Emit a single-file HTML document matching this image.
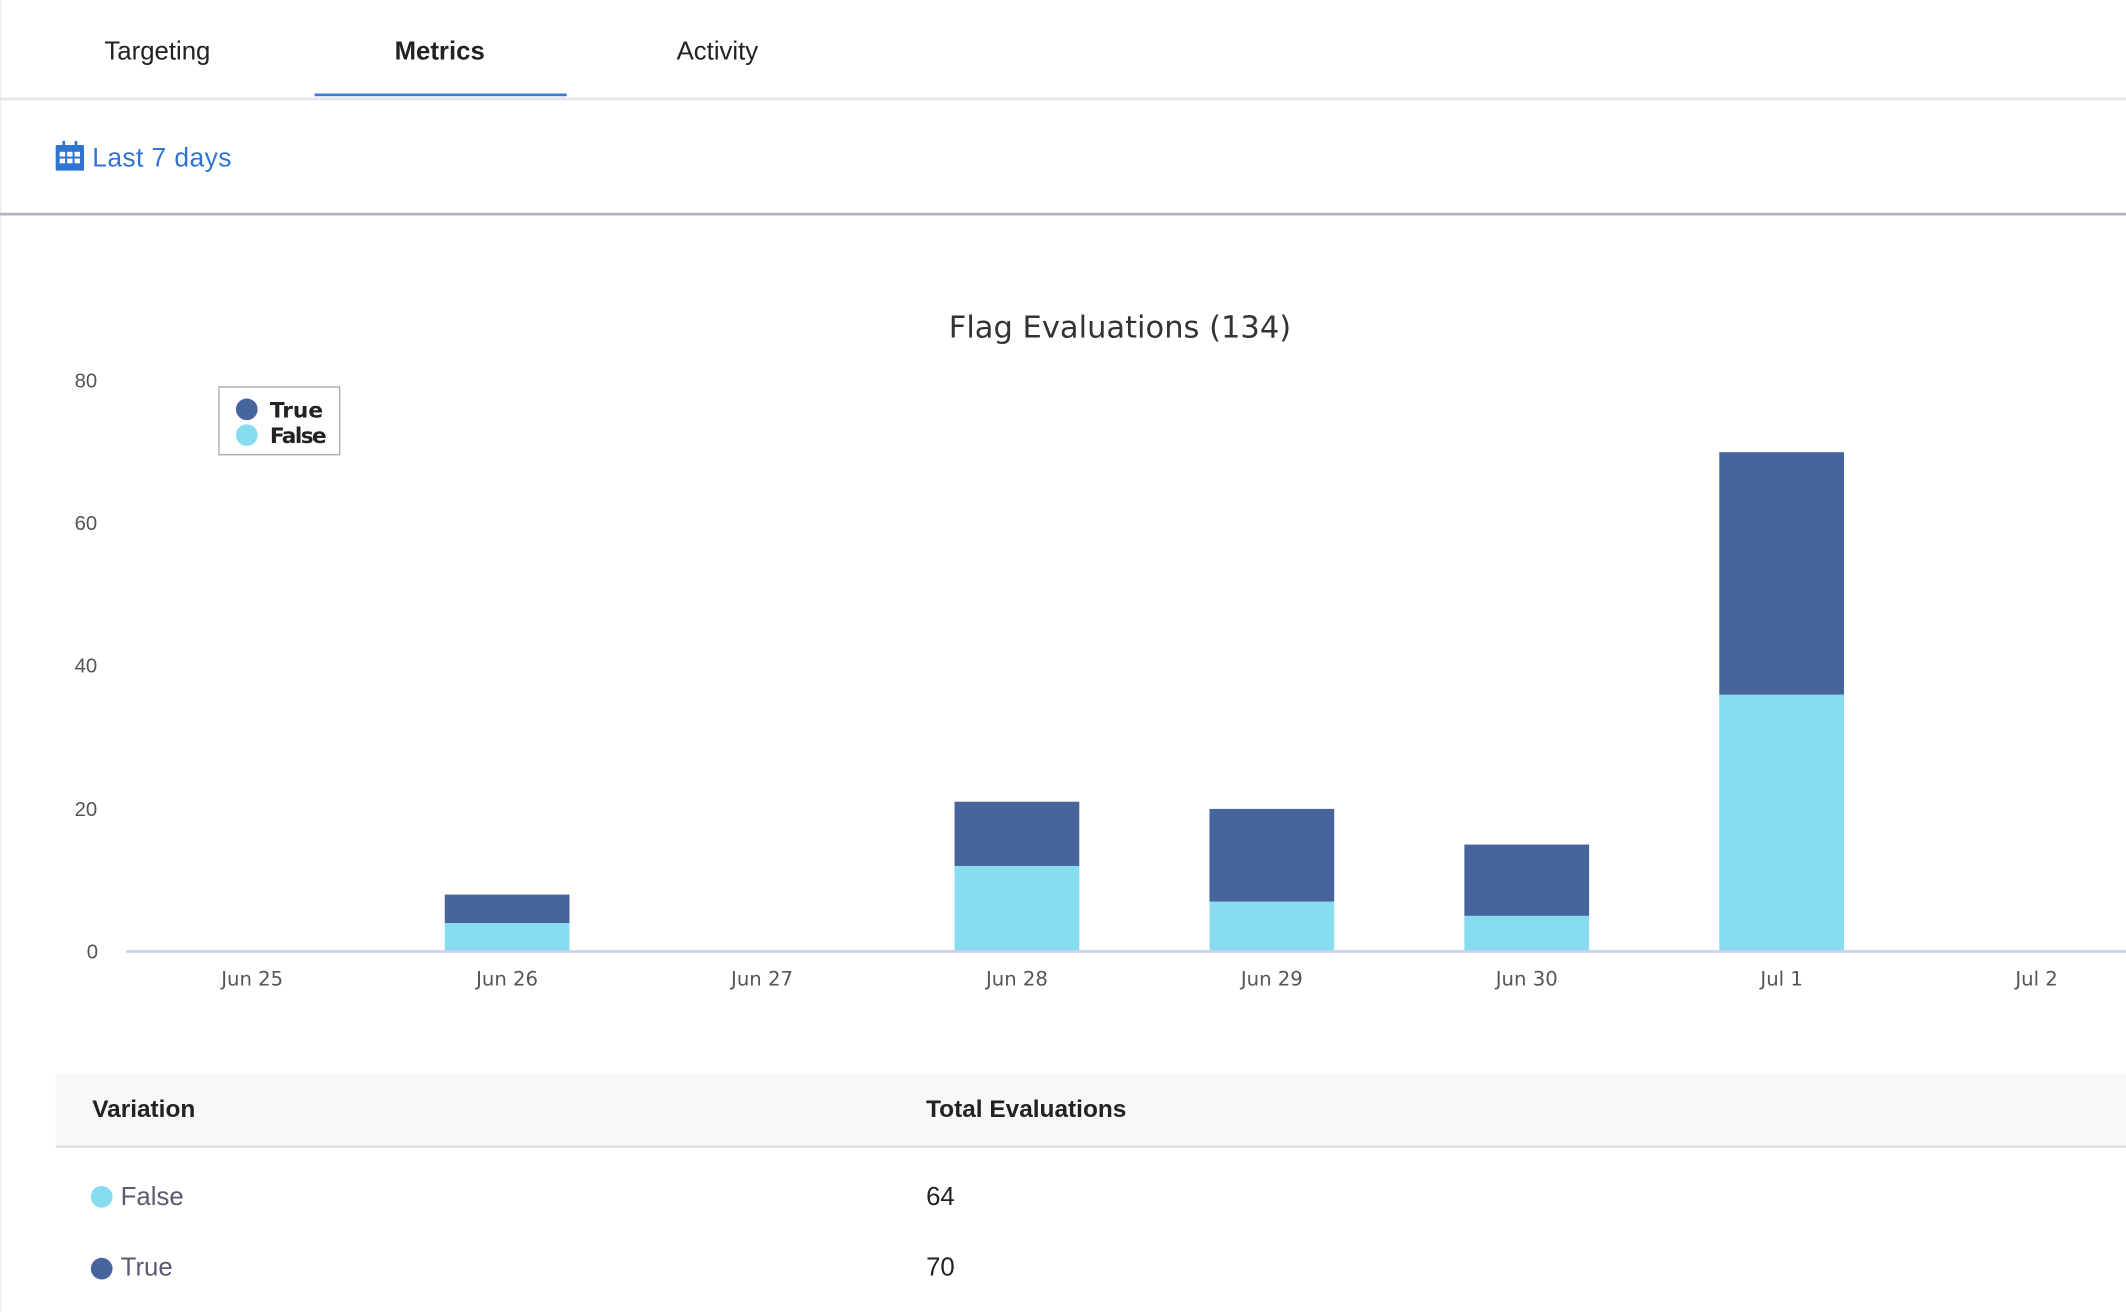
<!DOCTYPE html>
<html><head><meta charset="utf-8"><style>
body{margin:0;width:2126px;height:1312px;overflow:hidden;background:#fff;font-family:"Liberation Sans",sans-serif}
#w{position:absolute;left:0;top:0;width:1568px;height:968px;transform:scale(1.3559,1.3554);transform-origin:0 0}
.a{position:absolute;white-space:nowrap}
</style></head><body><div id="w">
<div class="a" style="left:0;top:0;width:1px;height:968px;background:#eee"></div>
<div class="a" style="left:77px;top:28px;font-size:19px;color:#222">Targeting</div>
<div class="a" style="left:291px;top:28px;font-size:19px;color:#222;font-weight:bold">Metrics</div>
<div class="a" style="left:499px;top:28px;font-size:19px;color:#222">Activity</div>
<div class="a" style="left:232px;top:69px;width:186px;height:2px;background:#3b7bdc"></div>
<div class="a" style="left:0;top:72px;width:1568px;height:2px;background:#e4e4ea"></div>
<svg class="a" style="left:41px;top:104px" width="21" height="22" viewBox="0 0 21 22"><rect x="0" y="3" width="21" height="19" rx="1" fill="#2f74d0"/><g fill="#fff"><rect x="3" y="8" width="4" height="3.5"/><rect x="8.5" y="8" width="4" height="3.5"/><rect x="14" y="8" width="4" height="3.5"/><rect x="3" y="13" width="4" height="3.5"/><rect x="8.5" y="13" width="4" height="3.5"/><rect x="14" y="13" width="4" height="3.5"/></g><rect x="5" y="0" width="2" height="5" fill="#2f74d0"/><rect x="14" y="0" width="2" height="5" fill="#2f74d0"/></svg>
<div class="a" style="left:68px;top:106px;font-size:19.5px;color:#2f74d0;letter-spacing:0.3px">Last 7 days</div>
<div class="a" style="left:0;top:157px;width:1568px;height:2px;background:#b0b0c6"></div>
<div class="a" style="left:826px;top:229px;transform:translateX(-50%);color:#333;font-family:'DejaVu Sans',sans-serif;font-size:22.5px">Flag Evaluations (134)</div>
<div class="a" style="left:55px;top:273px;font-size:15px;color:#555">80</div>
<div class="a" style="left:55px;top:378px;font-size:15px;color:#555">60</div>
<div class="a" style="left:55px;top:483px;font-size:15px;color:#555">40</div>
<div class="a" style="left:55px;top:589px;font-size:15px;color:#555">20</div>
<div class="a" style="left:64px;top:694px;font-size:15px;color:#555">0</div>
<svg class="a" style="left:0;top:0" width="1568" height="760">
<g fill="#87dcf0"><rect x="328" y="681" width="92" height="21"/><rect x="704" y="638.9" width="92" height="63.1"/><rect x="892" y="665.2" width="92" height="36.8"/><rect x="1080" y="675.7" width="92" height="26.3"/><rect x="1268" y="512.5" width="92" height="189.5"/></g>
<g fill="#47659c"><rect x="328" y="660" width="92" height="21"/><rect x="704" y="591.5" width="92" height="47.4"/><rect x="892" y="596.8" width="92" height="68.4"/><rect x="1080" y="623.1" width="92" height="52.6"/><rect x="1268" y="333.6" width="92" height="178.9"/></g>
<rect x="93" y="701" width="1475" height="2" fill="#c8d4e8"/>
<g font-size="14.5" fill="#555" text-anchor="middle" font-family="DejaVu Sans,sans-serif"><text x="186" y="727">Jun 25</text><text x="374" y="727">Jun 26</text><text x="562" y="727">Jun 27</text><text x="750" y="727">Jun 28</text><text x="938" y="727">Jun 29</text><text x="1126" y="727">Jun 30</text><text x="1314" y="727">Jul 1</text><text x="1502" y="727">Jul 2</text></g>
<rect x="161.5" y="285.5" width="89" height="50" fill="#fff" stroke="#aaa"/>
<circle cx="182" cy="302" r="8" fill="#47659c"/><circle cx="182" cy="321" r="8" fill="#87dcf0"/>
<g font-size="16" font-weight="bold" fill="#222" font-family="DejaVu Sans,sans-serif"><text x="199" y="308">True</text><text x="199" y="327" textLength="42">False</text></g>
</svg>
<div class="a" style="left:41px;top:792px;width:1527px;height:53px;background:#f7f8fa;border-bottom:2px solid #e2e3e6"></div>
<div class="a" style="left:68px;top:808px;font-size:18px;font-weight:bold;color:#222">Variation</div>
<div class="a" style="left:683px;top:808px;font-size:18px;font-weight:bold;color:#222">Total Evaluations</div>
<div class="a" style="left:67px;top:875px;width:16px;height:16px;border-radius:50%;background:#87dcf0"></div>
<div class="a" style="left:89px;top:873px;font-size:19px;color:#5a5a72">False</div>
<div class="a" style="left:683px;top:873px;font-size:19px;color:#222">64</div>
<div class="a" style="left:67px;top:928px;width:16px;height:16px;border-radius:50%;background:#47659c"></div>
<div class="a" style="left:89px;top:925px;font-size:19px;color:#5a5a72">True</div>
<div class="a" style="left:683px;top:925px;font-size:19px;color:#222">70</div>
</div></body></html>
